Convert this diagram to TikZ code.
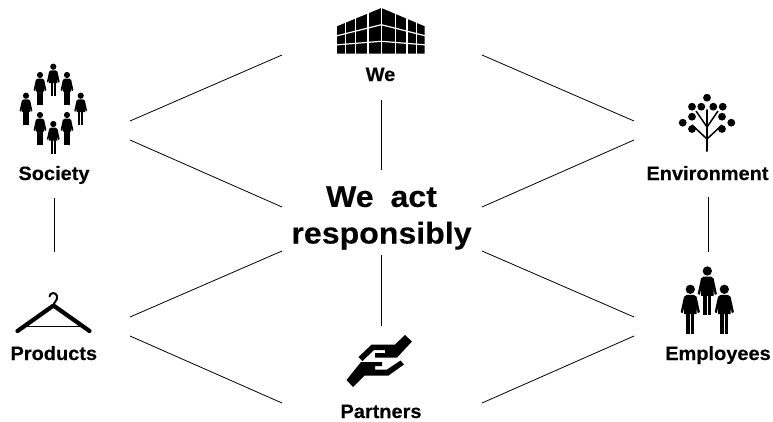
\documentclass[tikz,border=0pt]{standalone}
\usepackage{fontspec}
\setmainfont[FakeStretch=1.035,BoldFeatures={FakeBold=0.25}]{Liberation Sans}
\newfontfamily\bigfont[FakeStretch=1.07,BoldFeatures={FakeBold=0.25}]{Liberation Sans}
\tikzset{
  label/.style={font=\bfseries\fontsize{19.3}{20}\selectfont,text=black,anchor=base},
  link/.style={draw=black,line width=0.8pt},
  gap/.style={white,line width=1.2pt},
  person/.pic={
    \fill (0,0) circle (3.1);
    \fill (-2.4,3.7) -- (2.4,3.7) -- (4.2,5) -- (6.4,15.2) -- (5,15.9) -- (4.1,12) -- (4.2,16.5)
       -- (-4.2,16.5) -- (-4.1,12) -- (-5,15.9) -- (-6.4,15.2) -- (-4.2,5) -- cycle;
    \fill (-2.6,16) rectangle (-0.35,29.5);
    \fill (0.35,16) rectangle (2.6,29.5);
  }
}
\begin{document}
\begin{tikzpicture}[x=1pt,y=-1pt]
\useasboundingbox (0,0) rectangle (773,421);
% texts
\node[font=\bigfont\bfseries\fontsize{30}{36.6}\selectfont,align=center] (centre) at (381.5,218) {We\hspace{8pt} act\\responsibly};
\node[label] (we) at (380.5,81) {We};
\node[label] (society) at (54,180) {Society};
\node[label] (environment) at (707.5,180) {Environment};
\node[label] (products) at (53.8,360) {Products};
\node[label] (employees) at (718,360) {Employees};
\node[label] (partners) at (381,418) {Partners};
% line ends
\coordinate (we w) at (282,55);
\coordinate (we e) at (482,55);
\coordinate (we s) at (381,100);
\coordinate (society e) at (130,121);
\coordinate (society se) at (130,140);
\coordinate (society s) at (54,198);
\coordinate (environment w) at (634,121);
\coordinate (environment sw) at (634,140);
\coordinate (environment s) at (708,197);
\coordinate (products n) at (54,252);
\coordinate (products ne) at (130,317);
\coordinate (products e) at (130,336);
\coordinate (employees n) at (708,252);
\coordinate (employees nw) at (634,317);
\coordinate (employees w) at (634,336);
\coordinate (partners n) at (381,326);
\coordinate (partners w) at (282,403);
\coordinate (partners e) at (482,403);
\coordinate (centre n) at (381,170);
\coordinate (centre s) at (381,255);
\coordinate (centre nw) at (282,207);
\coordinate (centre ne) at (482,207);
\coordinate (centre sw) at (282,251);
\coordinate (centre se) at (482,251);
% lines
\draw[link] (we w) -- (society e);
\draw[link] (we e) -- (environment w);
\draw[link] (we s) -- (centre n);
\draw[link] (society se) -- (centre nw);
\draw[link] (environment sw) -- (centre ne);
\draw[link] (society s) -- (products n);
\draw[link] (environment s) -- (employees n);
\draw[link] (centre sw) -- (products ne);
\draw[link] (centre se) -- (employees nw);
\draw[link] (centre s) -- (partners n);
\draw[link] (products e) -- (partners w);
\draw[link] (employees w) -- (partners e);
% building
\fill (337,26.3) -- (381.3,8) -- (424.7,26.3) -- (424.7,53.7) -- (337,53.7) -- cycle;
\foreach \xa in {345.3,355.3,368,381.3,395.3,407,416.3}
  \draw[gap] (\xa,5) -- (\xa,54);
\draw[gap] (336,36) -- (381.3,24.7) -- (426,36);
\draw[gap] (336,44.9) -- (381.3,41.3) -- (426,44.9);
% society
\foreach \xa/\ya in {53.3/66.7,40/75,67/75,26/95.7,80.7/95.7,40/115,67/115,53.3/124}
  \pic at (\xa,\ya) {person};
% employees
\foreach \xa/\ya in {707.3/271,690.3/289.3,724.3/289.3}
  \pic[scale=1.5] at (\xa,\ya) {person};
% tree
\draw[line width=2pt,line cap=round] (707,151) -- (707,110);
\draw[line width=1.5pt] (707,139) -- (692,125) (707,139) -- (722,125);
\draw[line width=1.5pt] (707,127) -- (696,111) (707,127) -- (718,111);
\foreach \xa/\ya in {707/97.7,692/106.7,701.3/106.7,713.3/106.7,722.7/106.7,692/116.7,722/116.7,682.7/122.7,731.3/122.7,692/129,722/129}
  \fill (\xa,\ya) circle (3.9);
% hanger
\draw[line width=4.2pt,line cap=round,line join=round] (17.5,331) -- (53.5,305.5) -- (89.5,331);
\draw[line width=1.4pt] (22,326.5) -- (85,326.5);
\draw[line width=2pt,line cap=round] (53.5,305) .. controls (54,302) and (58,300) .. (57,296) .. controls (56,292) and (50,292) .. (49.5,296.5);
% hands
\fill (405,335) -- (412,341.5) -- (397,357.5) -- (375,357.5) -- (375,353) -- (385,353) -- (385,350) -- (374,350) -- (362.5,361) -- (358.5,357) -- (371.7,344.5) -- (395,344.5) -- cycle;
\fill (346.5,380) -- (353,387) -- (364.5,375.5) -- (388.5,375.5) -- (404,364.5) -- (400.5,360.5) -- (387,369.5) -- (375,369.5) -- (375,366) -- (382,366) -- (382,362) -- (361,362) -- cycle;
\end{tikzpicture}
\end{document}
